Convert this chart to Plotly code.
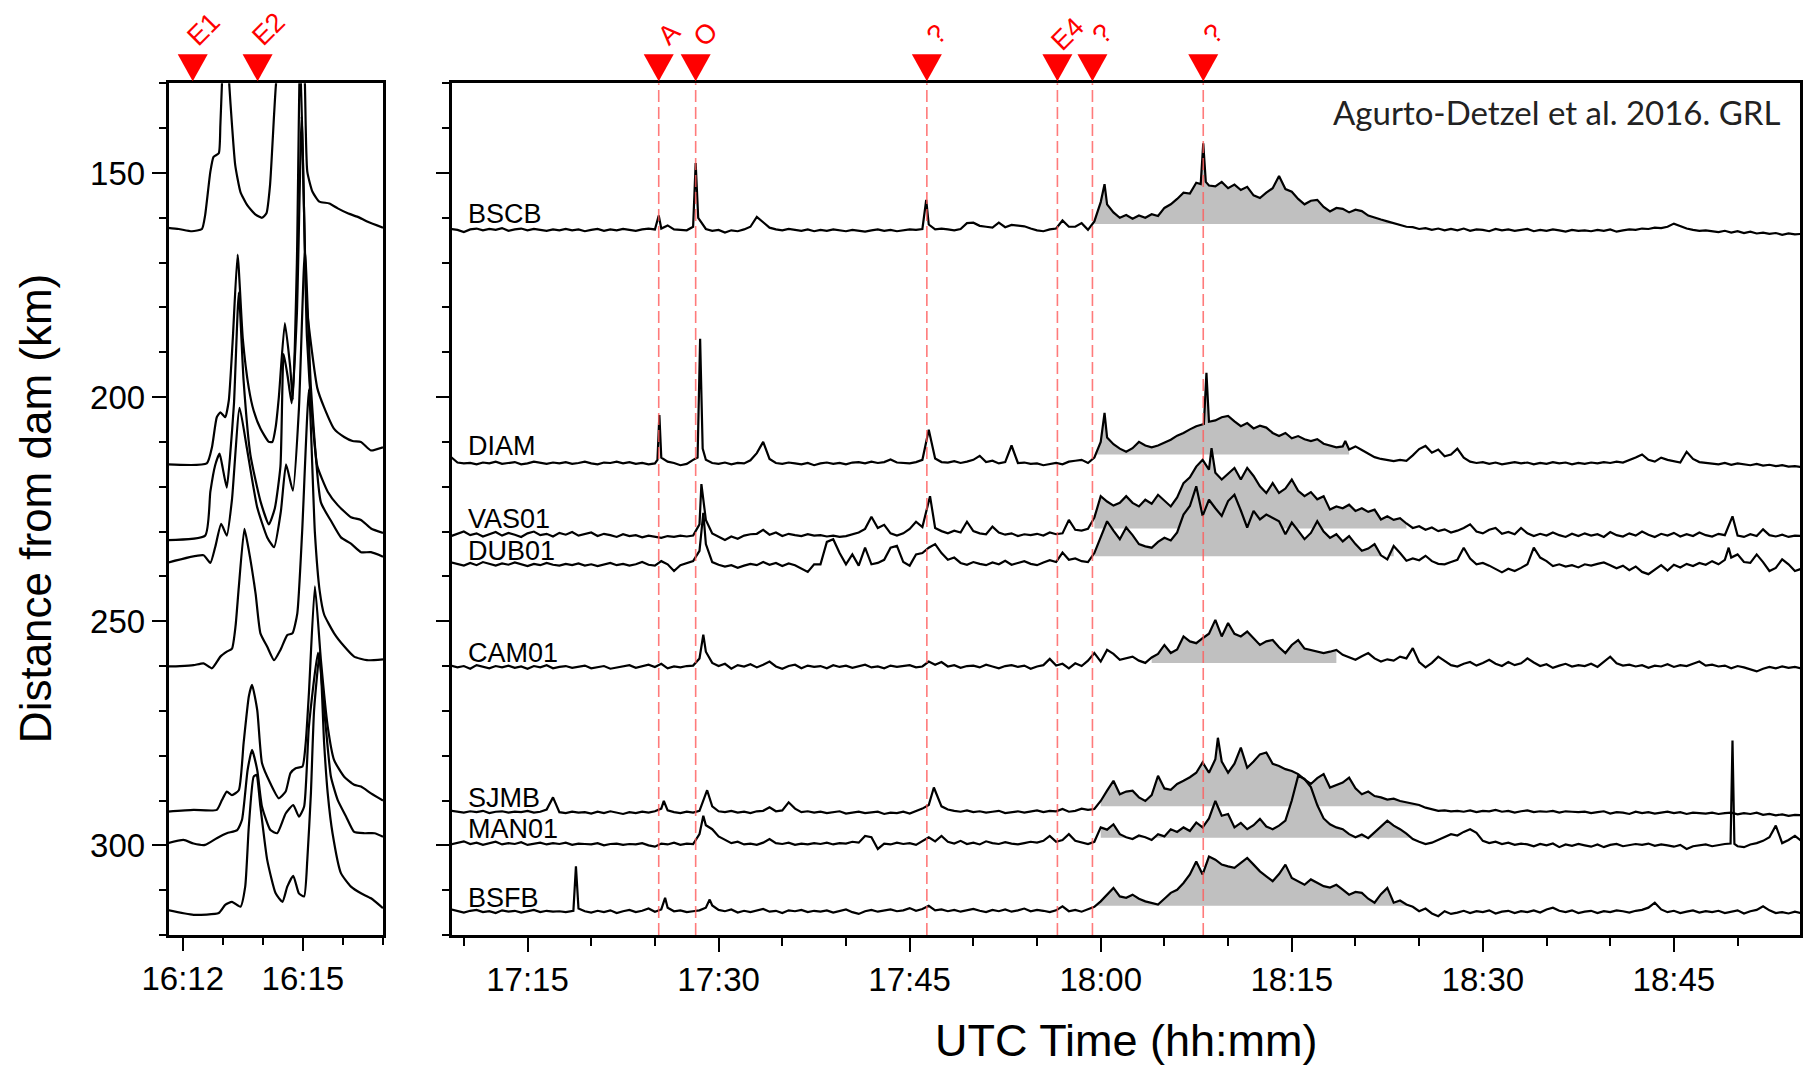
import numpy as np
import pandas as pd
import plotly.graph_objects as go

# ---------------------------------------------------------------- data
DAY = "2015-11-05"
RIGHT_T0 = DAY + " 17:00"   # right-panel times are minutes after 17:00
LEFT_T0 = DAY + " 16:12"    # left-panel times are minutes after 16:12

STATIONS = ["BSCB", "DIAM", "VAS01", "DUB01", "CAM01", "SJMB", "MAN01", "BSFB"]
BASE_KM = [163.0, 215.0, 231.4, 237.8, 260.3, 292.8, 300.0, 314.9]
LABEL_KM = [159.2, 210.8, 227.3, 234.3, 257.2, 289.5, 296.4, 311.8]
LABEL_T = 10.2

# right panel: amplitude (km) sampled every 0.5 min, one row per 10 min starting 17:08
GRID_START = 8.0
GRID_STEP = 0.5
ROW_SPAN = 10.0

BSCB_AMP = [
    [0.4, 0.1, 0.5, 0.3, -0.2, 0.4, 0.6, 0.2, 0.5, 0.3, 0.7, 0.1, 0.4, 0.6, 0.2, 0.5, 0.3, 0.1, 0.4, 0.2],
    [0.5, 0.2, 0.4, 0.0, 0.3, 0.5, 0.1, 0.4, 0.2, 0.5, 0.3, 0.1, 0.4, 0.6, 0.4, 0.6, 1.3, 0.4, 0.3, 0.2],
    [0.8, 2.5, 0.5, 0.1, 0.3, -0.3, 0.2, 0.0, 0.4, 1.0, 3.2, 2.0, 0.8, 0.4, 0.2, 0.5, 0.3, 0.1, 0.4, 0.0],
    [0.3, 0.1, 0.4, 0.2, 0.0, 0.3, 0.1, -0.1, 0.2, 0.4, 0.1, 0.3, 0.0, 0.2, 0.4, 0.3, 0.5, 1.5, 0.4, 0.6],
    [0.4, 0.2, 0.5, 1.8, 1.9, 1.2, 1.0, 0.8, 1.9, 0.9, 1.4, 1.3, 1.1, 0.6, 0.2, 0.0, 0.4, 0.6, 2.4, 1.0],
    [1.0, 1.8, 0.3, 2.2, 6.5, 6.0, 4.2, 3.0, 3.6, 2.8, 3.5, 3.0, 3.8, 3.4, 5.2, 6.0, 7.2, 8.6, 8.4, 10.8],
    [11.5, 10.2, 10.0, 11.0, 9.6, 10.4, 9.2, 9.9, 8.0, 7.4, 8.6, 9.6, 10.0, 9.4, 8.8, 7.2, 6.0, 6.8, 7.0, 5.4],
    [4.4, 5.2, 5.0, 4.2, 4.8, 4.5, 3.5, 3.0, 2.6, 2.2, 1.8, 1.4, 1.0, 0.9, 0.5, 0.7, 0.3, 0.6, 0.2, 0.5],
    [0.2, 0.6, 0.1, 0.4, 0.3, 0.0, 0.5, 0.2, 0.4, 0.1, 0.3, 0.5, 0.0, 0.3, 0.1, 0.4, 0.2, -0.1, 0.3, 0.1],
    [0.2, 0.0, 0.3, 0.1, 0.4, -0.1, 0.2, 0.4, 0.3, 0.6, 0.5, 0.8, 0.7, 1.0, 1.7, 1.2, 0.6, 0.3, 0.1, 0.2],
    [0.0, -0.2, 0.1, -0.3, 0.0, -0.4, -0.1, -0.5, -0.3, -0.6, -0.4, -0.8, -0.5, -0.7, -0.6, -0.8, -0.7, -0.9, -0.8, -1.0],
]
BSCB_SPIKE_T = [25.3, 28.0, 28.2, 28.4, 46.3, 60.3, 67.85, 68.05, 68.25, 74.0]
BSCB_SPIKE_A = [3.5, 1.0, 15.2, 3.0, 7.0, 10.5, 10.5, 19.6, 11.0, 12.3]

DIAM_AMP = [
    [0.8, 0.5, 1.6, 0.4, 0.2, 0.3, 0.0, 0.4, 0.2, 0.6, 0.1, 0.3, 0.5, 0.0, 0.2, 0.6, 0.3, 0.1, 0.4, 0.2],
    [0.5, 0.1, 0.3, 0.6, 0.2, 0.0, 0.4, 0.3, 0.6, 0.2, 0.5, 0.1, 0.3, 0.0, 0.2, 1.2, 0.6, 0.3, -0.2, 0.1],
    [1.0, 2.0, 1.0, 0.3, 0.1, 0.4, 0.0, 0.3, 0.2, 0.9, 2.5, 5.0, 1.2, 0.3, 0.1, 0.4, 0.2, 0.0, 0.3, -0.2],
    [0.2, 0.4, 0.1, 0.3, 0.0, 0.4, 0.5, 0.2, 0.6, 0.3, 0.5, 1.1, 0.4, 0.3, 0.2, 0.5, 1.0, 0.0, 1.3, 0.5],
    [0.4, 0.7, 0.3, 0.6, 1.0, 1.9, 0.5, 0.8, 0.2, 0.5, 1.0, 0.3, 0.4, 0.1, 0.2, -0.2, 0.1, 0.3, 0.0, 0.6],
    [0.8, 1.0, 0.3, 1.5, 5.0, 6.0, 4.5, 3.5, 2.8, 3.6, 5.0, 4.2, 3.8, 4.2, 4.8, 5.5, 6.4, 7.0, 7.8, 8.5],
    [8.8, 9.5, 9.8, 10.5, 10.8, 9.6, 8.5, 9.2, 8.0, 8.6, 8.2, 7.0, 6.3, 7.0, 5.8, 6.3, 5.6, 5.2, 5.6, 4.6],
    [4.2, 3.8, 4.0, 3.3, 4.0, 3.2, 2.4, 1.6, 1.2, 0.9, 0.7, 1.0, 0.8, 2.0, 3.4, 4.1, 2.6, 3.3, 1.8, 2.2],
    [3.5, 1.5, 0.6, 0.3, 0.5, 0.1, 0.4, 0.0, 0.3, 0.5, 0.2, 0.4, 0.0, 0.3, 0.1, 0.5, 0.2, 0.4, 0.0, 0.3],
    [0.1, 0.4, 0.2, 0.5, 0.3, 0.6, 0.4, 0.9, 1.5, 2.2, 1.0, 0.6, 1.5, 1.0, 0.7, 0.4, 2.8, 1.2, 0.5, 0.3],
    [0.2, 0.0, 0.3, -0.1, 0.2, 0.0, -0.2, 0.1, -0.3, -0.1, -0.4, -0.2, -0.5, -0.4, -0.6, -0.5, -0.6, -0.5, -0.6, -0.5],
]
DIAM_SPIKE_T = [25.2, 25.35, 25.5, 28.35, 28.55, 28.75, 46.5, 53.0, 60.3, 68.1, 68.3, 68.5, 79.2]
DIAM_SPIKE_A = [1.0, 11.0, 1.5, 1.5, 28.0, 3.5, 7.7, 4.2, 11.5, 9.0, 20.4, 9.5, 5.2]

VAS01_AMP = [
    [0.5, 1.2, 0.4, 0.9, 1.4, 0.6, 1.0, 0.3, 0.8, 1.3, 0.5, 1.1, 0.7, 0.2, 1.0, 1.4, 0.6, 0.9, 0.3, 1.1],
    [0.7, 1.3, 0.5, 0.8, 1.2, 0.4, 0.9, 0.6, 0.2, 0.8, 0.4, 0.6, 0.1, 0.5, 0.3, 0.0, 0.4, 0.2, 0.5, 0.3],
    [0.5, 3.0, 4.0, 1.0, 0.2, -0.5, 0.3, -0.2, 0.5, 0.8, 0.9, 1.8, 0.7, 1.2, 0.4, 0.9, 0.6, 0.4, 0.8, 0.5],
    [0.6, 0.3, 0.5, 0.2, 0.4, 0.8, 1.2, 2.0, 4.7, 2.2, 2.9, 1.0, 0.5, 1.0, 2.0, 3.6, 2.4, 3.0, 2.2, 1.5],
    [1.0, 1.6, 1.2, 3.6, 1.5, 1.0, 0.8, 2.5, 1.2, 0.7, 1.0, 0.4, 0.8, 0.6, 0.9, 0.5, 1.2, 0.8, 1.0, 4.0],
    [1.8, 1.6, 2.0, 4.5, 9.3, 8.1, 7.2, 7.8, 9.3, 7.8, 7.0, 8.5, 7.6, 9.6, 8.4, 7.0, 9.0, 12.2, 13.5, 15.9],
    [17.4, 15.2, 14.5, 13.0, 14.2, 15.6, 13.0, 15.6, 13.8, 11.5, 10.0, 12.2, 10.0, 11.0, 13.0, 10.5, 9.3, 10.2, 8.6, 9.3],
    [6.3, 7.0, 6.6, 7.4, 6.0, 6.6, 5.8, 6.3, 4.1, 4.8, 4.0, 4.4, 3.2, 2.2, 2.6, 1.8, 2.3, 1.5, 1.9, 1.2],
    [1.6, 2.2, 3.0, 1.4, 1.0, 1.8, 2.2, 0.9, 1.3, 0.8, 2.2, 1.0, 0.4, 0.9, 0.5, 1.2, 0.6, 0.2, 0.9, 0.4],
    [1.0, 0.5, 0.8, 0.2, 1.3, 0.6, 0.3, 1.0, 0.5, 1.4, 0.7, 0.2, 0.9, 0.5, 1.1, 0.3, 0.8, 0.4, 1.2, 0.6],
    [0.3, 0.9, 0.6, 0.5, 0.5, 0.2, 0.8, 0.4, 1.9, 0.6, 0.3, 0.7, 0.2, 0.5, 0.4, 0.6, 0.3, 0.5, 0.4, 0.5],
]
VAS01_SPIKE_T = [28.65, 46.6, 68.7, 109.6]
VAS01_SPIKE_A = [12.0, 9.3, 20.0, 4.8]

DUB01_AMP = [
    [0.8, 0.4, 0.9, 0.5, 0.2, 0.8, 0.3, 1.0, 0.6, 0.2, 0.7, 0.4, 0.9, 0.5, 0.1, 0.6, 0.3, 0.8, 0.4, 0.2],
    [0.6, 0.3, 0.7, 0.2, 0.5, 0.1, 0.4, 0.8, 0.3, 0.6, 0.2, 0.5, 1.0, 0.4, 0.2, 1.2, 0.5, -1.0, 0.3, 0.8],
    [1.2, 3.5, 5.0, 1.0, 0.4, 0.0, 0.3, -0.3, 0.2, 0.6, 0.3, 1.0, 0.4, 0.8, 0.1, 0.7, 0.3, -0.5, -1.2, 0.5],
    [0.5, 5.5, 6.1, 3.0, 0.5, 2.7, 0.2, 4.2, 0.5, 0.8, 1.5, 4.2, 4.6, 1.0, 0.2, 2.7, 3.0, 4.2, 5.0, 3.0],
    [1.5, 2.0, 0.8, 0.4, 1.0, 0.6, 0.3, 0.9, 0.5, 1.3, 0.4, 0.8, 1.2, 0.6, 0.3, 0.9, 1.4, 1.0, 3.1, 1.5],
    [1.8, 1.2, 1.0, 3.0, 6.5, 10.1, 8.0, 6.1, 8.7, 7.0, 5.0, 4.5, 4.2, 5.5, 6.4, 5.8, 7.6, 11.6, 13.5, 17.9],
    [11.3, 14.9, 13.0, 11.3, 14.6, 16.0, 12.5, 8.7, 12.4, 10.5, 11.6, 10.8, 10.1, 7.2, 9.8, 8.0, 6.1, 7.5, 10.1, 7.8],
    [6.4, 7.2, 5.6, 6.8, 5.0, 3.5, 4.0, 5.0, 2.5, 1.6, 4.6, 3.0, 1.3, 1.8, 1.4, 2.4, 1.2, 0.6, 0.5, 1.0],
    [1.5, 4.2, 1.8, 0.5, 0.8, 0.2, -0.6, -1.3, -0.5, -1.0, -0.3, 0.5, 4.2, 2.0, 1.2, 0.1, 0.5, 0.0, 0.3, -0.2],
    [0.5, 0.2, 0.6, 0.9, 0.3, -0.4, 0.2, -0.8, 0.0, -1.2, -1.7, -0.6, 0.3, -0.9, 0.4, -0.2, 0.6, 0.1, 0.8, 0.4],
    [1.2, 0.5, 1.5, 2.0, 2.7, 1.0, 0.8, 2.7, 1.0, -1.0, -0.3, 1.6, 0.5, -1.0, -0.5, -1.0, -0.8, -1.0, -0.9, -1.0],
]
DUB01_SPIKE_T = [28.8, 109.3]
DUB01_SPIKE_A = [12.0, 4.2]

CAM01_AMP = [
    [0.2, -0.2, 0.4, 0.0, 0.3, -0.3, 0.5, 0.1, -0.2, 0.3, 0.0, 0.4, -0.1, 0.2, -0.3, 0.3, 0.0, 0.5, -0.2, 0.1],
    [0.3, -0.1, 0.2, 0.4, -0.2, 0.1, 0.3, -0.3, 0.0, 0.2, 0.5, -0.1, 0.3, 0.6, 0.1, 0.8, -0.2, 0.2, 0.0, 0.3],
    [0.4, 2.0, 3.5, 1.0, 0.3, 0.8, -0.3, 0.5, 0.2, 0.7, 0.0, 0.6, 1.3, 0.2, -0.3, 0.3, 0.6, -0.2, 0.4, 0.1],
    [0.3, -0.2, 0.5, 0.1, 0.4, -0.1, 0.3, 0.6, 0.0, 0.2, -0.2, 0.4, 0.1, 0.3, 0.5, 0.0, 0.2, 1.3, 0.6, 1.2],
    [0.2, 0.5, -0.1, 0.3, 0.4, 0.0, 0.6, 0.2, -0.2, 0.3, 0.5, 0.1, 0.4, -0.3, 0.2, 0.5, 1.9, 0.4, 0.8, -0.2],
    [0.9, 0.3, 1.5, 3.2, 1.3, 3.9, 3.0, 1.7, 2.0, 2.4, 1.5, 1.0, 2.2, 3.0, 5.0, 3.2, 4.0, 6.9, 5.8, 5.4],
    [6.5, 7.5, 10.6, 6.9, 9.9, 7.5, 6.9, 8.0, 6.5, 5.0, 5.8, 6.1, 4.5, 3.2, 5.0, 6.1, 4.2, 3.9, 3.5, 3.2],
    [3.5, 3.9, 2.8, 2.2, 1.7, 2.5, 3.2, 2.0, 1.3, 1.8, 1.5, 2.4, 2.0, 4.3, 1.2, 0.0, 1.0, 2.4, 1.5, 0.5],
    [0.2, 0.8, 1.2, 0.4, 1.0, 1.7, 0.8, 0.3, 1.2, 0.5, 0.9, 2.0, 1.1, 0.3, 0.7, -0.1, 0.4, 0.8, 0.2, 0.5],
    [0.3, 0.8, 0.1, 1.2, 2.4, 0.9, 0.4, 0.6, 0.2, 0.5, -0.1, 0.4, 0.2, 0.7, 0.1, 0.5, 0.3, 0.8, 1.3, 0.4],
    [0.6, 0.2, 0.4, -0.2, 0.3, 0.0, -0.4, -0.9, -0.3, 0.1, -0.2, 0.2, -0.1, 0.1, -0.2, 0.0, -0.1, 0.1, -0.1, 0.0],
]
CAM01_SPIKE_T = [28.8]
CAM01_SPIKE_A = [7.3]

SJMB_AMP = [
    [0.6, 0.2, 0.5, 0.3, 0.1, 0.4, 0.2, 0.5, 0.0, 0.3, 0.4, 0.1, 0.3, 0.2, 0.5, 0.1, 0.3, 0.8, 0.4, 0.2],
    [0.0, 0.3, 0.1, 0.2, -0.1, 0.3, 0.0, 0.4, 0.1, -0.2, 0.2, 0.0, 0.3, 0.1, 0.4, 1.0, 0.6, 0.2, 0.0, 0.3],
    [0.1, 0.5, 0.8, 1.5, 0.4, 0.2, 0.5, 0.1, 0.3, 0.0, 0.4, 0.5, 1.3, 0.4, 0.6, 2.4, 1.0, 0.2, 0.4, 0.1],
    [0.3, 0.0, 0.2, 0.4, -0.1, 0.1, 0.3, 0.0, 0.2, 0.3, -0.2, 0.1, 0.0, 0.3, -0.1, 0.5, 1.0, 1.8, 2.0, 1.5],
    [0.8, 0.5, 0.3, 0.6, 0.2, 0.4, 0.1, 0.3, 0.5, 0.0, 0.2, 0.4, 0.1, 0.3, 0.6, 0.2, 0.5, 0.4, 0.9, 0.3],
    [0.5, 1.0, 0.7, 0.9, 2.7, 5.0, 7.2, 4.2, 4.8, 5.0, 3.5, 2.7, 4.0, 8.3, 5.5, 5.2, 6.5, 7.2, 8.0, 9.0],
    [11.3, 9.0, 12.0, 11.5, 9.0, 11.0, 14.6, 10.1, 11.5, 13.1, 13.5, 11.0, 10.5, 9.8, 9.4, 8.7, 7.5, 6.5, 7.8, 8.7],
    [5.7, 6.2, 6.8, 7.9, 5.5, 4.2, 4.8, 3.8, 3.5, 3.0, 3.2, 2.7, 2.4, 2.0, 1.8, 1.2, 0.9, 0.5, 0.6, 0.4],
    [0.5, 0.3, 0.6, 0.2, 0.5, 0.4, 0.7, 0.3, 0.5, 0.1, 0.4, 0.6, 0.2, 0.4, 0.3, 0.5, 0.1, 0.4, 0.3, 0.2],
    [0.3, 0.0, 0.2, 0.4, -0.1, 0.2, 0.1, -0.2, 0.3, 0.0, 0.2, -0.1, 0.1, 0.3, 0.0, 0.2, -0.2, 0.1, 0.0, -0.1],
    [0.1, -0.2, 0.0, 0.1, -0.3, 0.0, -0.2, 0.1, -0.4, -0.2, -0.5, -0.3, -0.6, -0.4, -0.5, -0.6, -0.5, -0.6, -0.5, -0.6],
]
SJMB_SPIKE_T = [17.0, 25.7, 29.1, 46.9, 69.2]
SJMB_SPIKE_A = [3.5, 2.7, 5.1, 5.7, 16.8]

MAN01_AMP = [
    [0.3, 0.7, 0.2, 0.5, 0.9, 0.3, 0.6, 0.1, 0.4, 0.8, 0.2, 0.5, 0.3, 0.7, 0.1, 0.4, 0.6, 0.2, 0.5, 0.3],
    [0.6, 0.1, 0.4, 0.3, 0.2, 0.5, 0.0, 0.3, 0.4, 0.1, 0.3, 0.2, 0.5, 0.0, -0.3, 0.4, 0.2, 0.6, 0.1, 0.4],
    [0.3, 2.5, 4.5, 3.6, 2.0, 1.2, 0.5, 0.8, 0.2, 0.4, 0.1, 0.6, 1.4, 0.5, 0.3, 0.6, 0.1, 0.4, 0.2, 0.5],
    [0.3, 0.6, 0.2, 0.5, 0.4, 0.8, 0.6, 2.1, 1.8, -0.8, 0.4, 0.2, 0.6, 0.3, 0.5, 0.1, 1.0, 1.8, 0.9, 2.1],
    [0.8, 0.4, 1.0, 0.3, 0.6, 0.2, 0.9, 0.5, 0.3, 0.7, 0.4, 0.2, 0.5, 0.8, 0.6, 1.0, 2.1, 0.8, 1.2, 2.5],
    [1.0, 0.6, 0.3, 0.8, 4.0, 3.5, 4.7, 2.5, 1.8, 1.4, 2.2, 1.8, 1.2, 2.5, 2.0, 3.6, 3.0, 4.0, 3.2, 5.1],
    [4.0, 6.0, 9.9, 6.6, 7.0, 4.0, 5.0, 3.6, 4.5, 5.9, 4.2, 3.6, 4.4, 5.5, 10.0, 15.5, 14.8, 13.0, 9.0, 6.0],
    [4.7, 4.0, 3.6, 2.5, 1.8, 2.4, 1.6, 2.9, 4.2, 5.5, 4.4, 3.6, 2.6, 1.4, 0.8, 0.3, 0.6, 1.2, 1.8, 2.5],
    [2.2, 3.0, 3.6, 2.8, 1.0, 0.5, 0.8, 0.3, 0.6, 0.1, 0.4, 0.2, -0.2, 0.3, 0.0, 0.4, -0.4, 0.2, -0.1, 0.3],
    [0.0, -0.3, 0.2, -0.4, 0.1, 0.3, -0.2, 0.0, 0.3, 0.1, 0.4, -0.1, 0.2, 0.0, -0.3, 0.1, -0.8, -0.2, 0.0, 0.2],
    [-0.2, 0.1, 0.3, 0.0, -0.2, -0.4, 0.2, 0.5, 1.0, 1.8, 4.4, 0.5, 1.2, 2.1, 1.0, 0.8, 1.2, 0.6, 1.0, 0.8],
]
MAN01_SPIKE_T = [28.8, 109.45, 109.6, 109.75]
MAN01_SPIKE_A = [6.6, 0.4, 23.4, 0.3]

BSFB_AMP = [
    [0.4, 0.0, 0.6, 0.2, -0.1, 0.3, 0.5, 0.0, 0.2, -0.2, 0.4, 0.1, 0.3, -0.1, 0.2, 0.5, 0.0, 0.3, 0.1, 0.2],
    [0.0, 0.3, 1.2, 0.2, -0.1, 0.3, 0.0, 0.4, -0.2, 0.2, 0.5, 0.0, 0.3, 0.8, 0.1, 0.6, 1.0, 0.2, 0.4, 0.0],
    [0.2, 0.4, 1.0, 1.5, 0.5, 0.2, 0.6, -0.1, 0.3, 0.0, 0.4, 0.7, 0.1, 0.3, -0.2, 0.4, 0.2, 0.5, 0.0, 0.3],
    [0.1, 0.4, -0.1, 0.3, 0.6, 0.0, -0.4, 0.2, 0.5, 0.1, 0.3, 0.6, 0.2, 0.4, 0.9, 0.3, 0.7, 1.4, 0.4, 0.6],
    [0.2, 0.5, 0.1, 0.4, 0.7, 0.3, 0.0, 0.5, 0.2, 0.6, 0.1, 0.4, 0.8, 0.2, 0.5, 0.3, 0.0, 0.4, 1.3, 0.2],
    [0.5, 0.1, 0.6, 1.2, 2.4, 4.0, 5.4, 3.5, 3.2, 3.9, 3.0, 2.4, 2.0, 1.7, 3.0, 4.3, 5.0, 6.5, 8.4, 11.3],
    [8.4, 12.4, 11.7, 10.6, 10.2, 9.9, 11.0, 12.1, 10.6, 9.1, 8.0, 6.9, 8.5, 10.6, 7.6, 6.8, 6.1, 7.3, 6.5, 5.8],
    [5.5, 6.1, 5.0, 3.9, 4.5, 4.3, 3.0, 2.1, 4.0, 5.4, 2.1, 2.6, 1.7, 1.2, 0.2, 0.8, -0.3, -0.9, 0.2, -0.4],
    [-0.1, 0.3, -0.2, 0.2, 0.0, 0.4, -0.3, 0.1, 0.3, -0.2, 0.2, 0.0, 0.4, -0.1, 0.6, 1.0, 0.3, 0.0, 0.4, -0.2],
    [0.1, 0.3, -0.2, 0.2, 0.0, 0.4, 0.2, -0.1, 0.3, 0.5, 1.0, 2.1, 0.6, 0.0, 0.3, -0.2, 0.1, 0.4, -0.1, 0.2],
    [0.0, 0.3, -0.2, 0.1, 0.4, -0.3, 0.2, 0.5, 1.3, 0.4, -0.2, 0.0, -0.3, 0.1, -0.2, 0.0, -0.1, 0.1, -0.1, 0.0],
]
BSFB_SPIKE_T = [18.6, 18.8, 19.0, 25.8, 29.3]
BSFB_SPIKE_A = [0.3, 10.2, 0.8, 3.2, 2.8]

# grey fill (positive part above a threshold) inside a time window
FILL_T0 = [59.4, 59.4, 59.4, 59.4, 64.0, 59.6, 59.6, 59.3]
FILL_T1 = [85.0, 79.8, 84.0, 83.0, 78.5, 86.0, 85.0, 85.0]
FILL_THR = [1.6, 2.2, 2.1, 2.3, 1.0, 1.5, 1.7, 1.4]

# left panel (16:11.6 - 16:17): minutes after 16:12 and amplitude (km)
BSCB_L_T = [-0.4, -0.1, 0.23, 0.48, 0.56, 0.69, 0.77, 0.9, 0.94, 0.98, 1.07, 1.16, 1.23, 1.31, 1.44, 1.61, 1.82, 1.98,
            2.09, 2.18, 2.28, 2.33, 2.5, 2.75, 2.95, 3.05, 3.11, 3.24, 3.41, 3.66, 3.87, 4.12, 4.37, 4.62, 5.0]
BSCB_L_A = [0.8, 0.5, 0.0, 0.5, 3.6, 13.3, 16.6, 17.4, 23.7, 33.0, 50, 33.0, 23.7, 14.8, 8.8, 5.8, 3.7, 3.0,
            4.0, 10.3, 25.9, 33.0, 45, 40, 60, 33.0, 13.3, 8.8, 6.6, 6.2, 5.1, 4.0, 3.2, 2.1, 0.8]
DIAM_L_T = [-0.4, 0.6, 0.73, 0.85, 0.94, 1.06, 1.15, 1.25, 1.37, 1.5, 1.65, 1.77, 1.94, 2.15, 2.24, 2.32,
            2.4, 2.55, 2.68, 2.75, 2.85, 2.93, 3.02, 3.1, 3.36, 3.53, 3.78, 4.03, 4.24, 4.45, 4.7, 5.0]
DIAM_L_A = [0.0, 0.2, 3.8, 10.5, 11.6, 10.5, 14.2, 28, 46.8, 28, 17, 12, 8, 5, 5.0, 8.3,
            15, 31.5, 22, 14.4, 45, 92, 60, 35, 17, 12.7, 7.9, 6.1, 5.2, 5.0, 3.1, 3.8]
VAS01_L_T = [-0.4, 0.56, 0.69, 0.81, 0.92, 1.0, 1.1, 1.18, 1.28, 1.4, 1.52, 1.69, 1.94, 2.15, 2.3,
             2.44, 2.52, 2.62, 2.72, 2.85, 2.97, 3.1, 3.25, 3.36, 3.62, 3.87, 4.2, 4.45, 4.7, 5.0]
VAS01_L_A = [-0.5, 0.5, 10.3, 16.2, 18.8, 15.5, 11.2, 18, 30, 54.7, 35, 18.5, 8.2, 3.0, 6.6,
             16, 41, 36, 30, 50, 94, 45, 25, 16, 10.3, 7.3, 4.6, 4.0, 2.1, 1.1]
DUB01_L_T = [-0.4, 0.52, 0.69, 0.81, 0.96, 1.1, 1.23, 1.42, 1.6, 1.86, 2.11, 2.28, 2.45, 2.58, 2.75,
             2.9, 3.05, 3.2, 3.45, 3.7, 3.95, 4.2, 4.45, 4.7, 5.0]
DUB01_L_A = [0.8, 2.5, 0.8, 4.3, 9.5, 6.9, 15, 35.4, 26.5, 13.2, 6.5, 4.3, 12.3, 22.8, 16.9,
             35, 70.6, 40, 14.3, 10.2, 6.5, 5.1, 3.2, 3.2, 2.2]
CAM01_L_T = [-0.4, -0.07, 0.27, 0.52, 0.73, 0.94, 1.1, 1.23, 1.32, 1.4, 1.54, 1.65, 1.82, 1.94, 2.11,
             2.28, 2.44, 2.61, 2.74, 2.86, 2.98, 3.15, 3.3, 3.42, 3.53, 3.78, 4.03, 4.28, 4.6, 5.0]
CAM01_L_A = [0.2, 0.3, 0.5, 0.9, -0.2, 2.4, 3.5, 4.2, 9.3, 17.9, 30.9, 26.1, 16.4, 7.6, 4.6,
             1.6, 3.9, 7.2, 7.6, 12, 30, 62, 30, 17, 11.8, 7.6, 4.7, 2.4, 1.6, 1.8]
SJMB_L_T = [-0.4, 0.27, 0.85, 0.98, 1.1, 1.23, 1.4, 1.52, 1.65, 1.73, 1.86, 1.98, 2.19, 2.4, 2.57,
            2.69, 2.82, 2.99, 3.07, 3.15, 3.3, 3.45, 3.62, 3.78, 4.03, 4.28, 4.45, 4.7, 5.0]
SJMB_L_A = [0.3, 0.7, 0.7, 2.9, 4.8, 4.0, 5.1, 15.6, 26.0, 28.6, 23.0, 11.1, 6.6, 3.3, 4.8,
            8.9, 10.0, 10.4, 15.6, 26.7, 50.6, 34.1, 19.3, 11.8, 8.1, 6.3, 5.9, 4.4, 2.8]
MAN01_L_T = [-0.4, 0.02, 0.27, 0.56, 0.85, 1.1, 1.36, 1.48, 1.62, 1.73, 1.86, 1.98, 2.19, 2.36,
             2.57, 2.76, 2.9, 3.03, 3.15, 3.38, 3.57, 3.7, 3.87, 4.08, 4.28, 4.54, 4.79, 5.0]
MAN01_L_A = [0.4, 1.2, 0.4, 0.1, 1.6, 2.7, 3.4, 5.7, 16.8, 21.3, 16.8, 8.6, 3.4, 2.7,
             7.1, 9.0, 6.4, 8.6, 26.5, 43.0, 26.5, 15.3, 10.1, 6.4, 3.0, 2.7, 2.7, 1.9]
BSFB_L_T = [-0.4, 0.27, 0.9, 1.06, 1.23, 1.44, 1.56, 1.65, 1.77, 1.84, 1.94, 2.11, 2.32, 2.49, 2.61,
            2.76, 2.9, 3.03, 3.11, 3.2, 3.28, 3.42, 3.53, 3.62, 3.74, 3.95, 4.2, 4.45, 4.7, 5.0]
BSFB_L_A = [0.5, -0.6, -0.2, 1.6, 2.3, 1.2, 5.7, 19.1, 30.2, 30.6, 23.5, 11.6, 4.2, 2.3, 5.7,
            8.1, 4.2, 3.5, 11.6, 26.5, 45.1, 57.9, 37.7, 26.5, 17.6, 8.7, 5.7, 4.2, 3.1, 0.9]

# event markers
EVENT_R_T = [25.3, 28.2, 46.35, 56.6, 59.35, 68.05]     # minutes after 17:00
EVENT_R_LABEL = ["A", "O", "?", "E4", "?", "?"]
EVENT_L_T = [0.25, 1.87]                               # minutes after 16:12
EVENT_L_LABEL = ["E1", "E2"]

# axes
KM_RANGE = [320, 130]
LEFT_RANGE_MIN = [-0.355, 5.0]
RIGHT_RANGE_MIN = [9.07, 114.9]
CREDIT = "Agurto-Detzel et al. 2016. GRL"

# ---------------------------------------------------------------- helpers
def to_time(base, minutes):
    return pd.Timestamp(base) + pd.to_timedelta(np.asarray(minutes, float), unit="m")


def tstr(base, minutes):
    return (pd.Timestamp(base) + pd.Timedelta(minutes=float(minutes))).strftime("%Y-%m-%d %H:%M:%S.%f")


def right_series(rows, spike_t, spike_a):
    t, a = [], []
    for r, row in enumerate(rows):
        for j, v in enumerate(row):
            t.append(GRID_START + ROW_SPAN * r + GRID_STEP * j)
            a.append(v)
    t = np.array(t)
    a = np.array(a, float)
    st = np.array(spike_t, float)
    sa = np.array(spike_a, float)
    keep = np.ones(len(t), bool)
    for s in st:
        keep &= np.abs(t - s) >= 0.12
    tt = np.concatenate([t[keep], st])
    aa = np.concatenate([a[keep], sa])
    o = np.argsort(tt, kind="mergesort")
    return tt[o], aa[o]


RIGHT_DATA = [
    (BSCB_AMP, BSCB_SPIKE_T, BSCB_SPIKE_A),
    (DIAM_AMP, DIAM_SPIKE_T, DIAM_SPIKE_A),
    (VAS01_AMP, VAS01_SPIKE_T, VAS01_SPIKE_A),
    (DUB01_AMP, DUB01_SPIKE_T, DUB01_SPIKE_A),
    (CAM01_AMP, CAM01_SPIKE_T, CAM01_SPIKE_A),
    (SJMB_AMP, SJMB_SPIKE_T, SJMB_SPIKE_A),
    (MAN01_AMP, MAN01_SPIKE_T, MAN01_SPIKE_A),
    (BSFB_AMP, BSFB_SPIKE_T, BSFB_SPIKE_A),
]
LEFT_DATA = [
    (BSCB_L_T, BSCB_L_A), (DIAM_L_T, DIAM_L_A), (VAS01_L_T, VAS01_L_A), (DUB01_L_T, DUB01_L_A),
    (CAM01_L_T, CAM01_L_A), (SJMB_L_T, SJMB_L_A), (MAN01_L_T, MAN01_L_A), (BSFB_L_T, BSFB_L_A),
]

# ---------------------------------------------------------------- layout geometry (pixels of 1814x1068)
W, H = 1814, 1068
Y_TOP = 1 - 83.3 / H
Y_BOT = 1 - 935.0 / H
LEFT_DOM = [168.5 / W, 383.0 / W]
RIGHT_DOM = [452.0 / W, 1800.0 / W]
FONT = "Liberation Sans, Arial, Helvetica, sans-serif"

fig = go.Figure()

# fills first
for i, (rows, st, sa) in enumerate(RIGHT_DATA):
    tt, aa = right_series(rows, st, sa)
    m = (tt >= FILL_T0[i]) & (tt <= FILL_T1[i])
    ft = tt[m]
    fa = np.maximum(aa[m], FILL_THR[i])
    base = BASE_KM[i]
    px = np.concatenate([ft, ft[::-1]])
    py = np.concatenate([base - fa, np.full(len(ft), base - FILL_THR[i])])
    fig.add_trace(go.Scatter(x=to_time(RIGHT_T0, px), y=py, mode="lines", fill="toself",
                             fillcolor="rgb(192,192,192)", line=dict(width=0, color="rgba(0,0,0,0)"),
                             xaxis="x2", yaxis="y2", hoverinfo="skip", showlegend=False))

# right panel traces
for i, (rows, st, sa) in enumerate(RIGHT_DATA):
    tt, aa = right_series(rows, st, sa)
    fig.add_trace(go.Scatter(x=to_time(RIGHT_T0, tt), y=BASE_KM[i] - aa, mode="lines",
                             line=dict(color="black", width=2.2), xaxis="x2", yaxis="y2",
                             hoverinfo="skip", showlegend=False, name=STATIONS[i]))

# left panel traces
for i, (lt, la) in enumerate(LEFT_DATA):
    fig.add_trace(go.Scatter(x=to_time(LEFT_T0, lt), y=BASE_KM[i] - np.array(la, float), mode="lines",
                             line=dict(color="black", width=2.2, shape="spline", smoothing=0.5),
                             xaxis="x", yaxis="y", hoverinfo="skip", showlegend=False))

shapes = []
annotations = []

# dashed event lines + triangles (right)
for t, lab in zip(EVENT_R_T, EVENT_R_LABEL):
    xs = tstr(RIGHT_T0, t)
    shapes.append(dict(type="line", xref="x2", yref="paper", x0=xs, x1=xs, y0=Y_BOT, y1=Y_TOP,
                       line=dict(color="rgba(255,90,90,0.8)", width=1.6, dash="12px,5px"), layer="above"))
    shapes.append(dict(type="path", xref="x2", yref="paper", xsizemode="pixel", ysizemode="pixel",
                       xanchor=xs, yanchor=Y_TOP, path="M -15 29 L 15 29 L 0 2 Z",
                       fillcolor="#ff0000", line=dict(width=0), layer="above"))
    annotations.append(dict(x=xs, xref="x2", y=1 - 34 / H, yref="paper", text=lab, showarrow=False,
                            textangle=-45, xshift=10, font=dict(family=FONT, size=27, color="#ff0000"),
                            xanchor="center", yanchor="middle"))

for t, lab in zip(EVENT_L_T, EVENT_L_LABEL):
    xs = tstr(LEFT_T0, t)
    shapes.append(dict(type="path", xref="x", yref="paper", xsizemode="pixel", ysizemode="pixel",
                       xanchor=xs, yanchor=Y_TOP, path="M -15 29 L 15 29 L 0 2 Z",
                       fillcolor="#ff0000", line=dict(width=0), layer="above"))
    annotations.append(dict(x=xs, xref="x", y=1 - 29 / H, yref="paper", text=lab, showarrow=False,
                            textangle=-45, xshift=11, font=dict(family=FONT, size=27, color="#ff0000"),
                            xanchor="center", yanchor="middle"))

# station labels
for name, km in zip(STATIONS, LABEL_KM):
    annotations.append(dict(x=tstr(RIGHT_T0, LABEL_T), xref="x2", y=km, yref="y2", text=name,
                            showarrow=False, xanchor="left", yanchor="middle",
                            font=dict(family=FONT, size=27, color="black")))

annotations.append(dict(x=1782 / W, y=1 - 111.7 / H, xref="paper", yref="paper", text=CREDIT,
                        showarrow=False, xanchor="right", yanchor="middle",
                        font=dict(family="Lato, Open Sans, sans-serif", size=33, color="#222222")))
annotations.append(dict(x=35 / W, y=(Y_TOP + Y_BOT) / 2, xref="paper", yref="paper",
                        text="Distance from dam (km)", showarrow=False, textangle=-90,
                        xanchor="center", yanchor="middle", font=dict(family=FONT, size=44, color="black")))
annotations.append(dict(x=(RIGHT_DOM[0] + RIGHT_DOM[1]) / 2, y=1 - 1040 / H, xref="paper", yref="paper",
                        text="UTC Time (hh:mm)", showarrow=False, xanchor="center", yanchor="middle",
                        font=dict(family=FONT, size=45, color="black")))

axis_common = dict(showline=True, mirror=True, linecolor="black", linewidth=2.5, showgrid=False,
                   zeroline=False, ticks="outside", tickcolor="black", tickwidth=2, automargin=False,
                   tickfont=dict(family=FONT, size=33, color="black"))

fig.update_layout(
    width=W, height=H, margin=dict(l=0, r=0, t=0, b=0, pad=0, autoexpand=False),
    paper_bgcolor="white", plot_bgcolor="white", showlegend=False,
    xaxis=dict(axis_common, type="date", domain=LEFT_DOM, anchor="y",
               range=[tstr(LEFT_T0, LEFT_RANGE_MIN[0]), tstr(LEFT_T0, LEFT_RANGE_MIN[1])],
               tick0=tstr(LEFT_T0, 0), dtick=180000, tickformat="%H:%M", ticklen=13,
               minor=dict(dtick=60000, tick0=tstr(LEFT_T0, 0), ticklen=7, ticks="outside",
                          tickcolor="black", tickwidth=2)),
    yaxis=dict(axis_common, domain=[Y_BOT, Y_TOP], anchor="x", range=KM_RANGE,
               tick0=0, dtick=50, ticklen=14,
               minor=dict(dtick=10, tick0=0, ticklen=7, ticks="outside", tickcolor="black", tickwidth=2)),
    xaxis2=dict(axis_common, type="date", domain=RIGHT_DOM, anchor="y2",
                range=[tstr(RIGHT_T0, RIGHT_RANGE_MIN[0]), tstr(RIGHT_T0, RIGHT_RANGE_MIN[1])],
                tick0=tstr(RIGHT_T0, 15), dtick=900000, tickformat="%H:%M", ticklen=14,
                minor=dict(dtick=300000, tick0=tstr(RIGHT_T0, 10), ticklen=8, ticks="outside",
                           tickcolor="black", tickwidth=2)),
    yaxis2=dict(axis_common, domain=[Y_BOT, Y_TOP], anchor="x2", range=KM_RANGE, showticklabels=False,
                tick0=0, dtick=50, ticklen=13,
                minor=dict(dtick=10, tick0=0, ticklen=7, ticks="outside", tickcolor="black", tickwidth=2)),
    shapes=shapes, annotations=annotations,
)

fig.write_html("out.html", config={"displayModeBar": False},
               post_script="document.body.style.margin='0px';document.body.style.overflow='hidden';")
